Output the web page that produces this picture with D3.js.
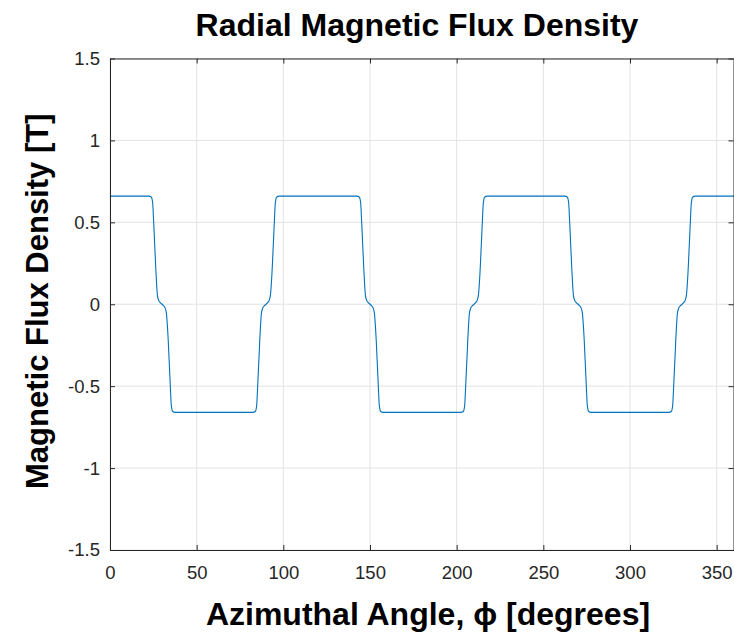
<!DOCTYPE html>
<html>
<head>
<meta charset="utf-8">
<script src="https://cdn.jsdelivr.net/npm/d3@7"></script>
<style>
  body { margin: 0; background: #fff; }
  text { font-family: Arial, "Liberation Sans", sans-serif; }
</style>
</head>
<body>
<svg id="chart" width="734" height="634"></svg>
<script>
// data
const angleDeg = [
  0, 22.5, 23.8, 24.6, 25.2, 26.5, 27.3, 28.0, 29, 30, 31, 31.9, 32.6, 33.5, 34.8, 35.4, 36.2, 37.5,
  82.5, 83.8, 84.6, 85.2, 86.5, 87.3, 88.0, 89, 90, 91, 91.9, 92.6, 93.5, 94.8, 95.4, 96.2, 97.5,
  142.5, 143.8, 144.6, 145.2, 146.5, 147.3, 148.0, 149, 150, 151, 151.9, 152.6, 153.5, 154.8, 155.4, 156.2, 157.5,
  202.5, 203.8, 204.6, 205.2, 206.5, 207.3, 208.0, 209, 210, 211, 211.9, 212.6, 213.5, 214.8, 215.4, 216.2, 217.5,
  262.5, 263.8, 264.6, 265.2, 266.5, 267.3, 268.0, 269, 270, 271, 271.9, 272.6, 273.5, 274.8, 275.4, 276.2, 277.5,
  322.5, 323.8, 324.6, 325.2, 326.5, 327.3, 328.0, 329, 330, 331, 331.9, 332.6, 333.5, 334.8, 335.4, 336.2, 337.5,
  360
];
const fluxT = [
  0.66, 0.66, 0.655, 0.62, 0.5, 0.2, 0.06, 0.025, 0.01, 0, -0.01, -0.025, -0.06, -0.2, -0.5, -0.62, -0.655, -0.66,
  -0.66, -0.655, -0.62, -0.5, -0.2, -0.06, -0.025, -0.01, 0, 0.01, 0.025, 0.06, 0.2, 0.5, 0.62, 0.655, 0.66,
  0.66, 0.655, 0.62, 0.5, 0.2, 0.06, 0.025, 0.01, 0, -0.01, -0.025, -0.06, -0.2, -0.5, -0.62, -0.655, -0.66,
  -0.66, -0.655, -0.62, -0.5, -0.2, -0.06, -0.025, -0.01, 0, 0.01, 0.025, 0.06, 0.2, 0.5, 0.62, 0.655, 0.66,
  0.66, 0.655, 0.62, 0.5, 0.2, 0.06, 0.025, 0.01, 0, -0.01, -0.025, -0.06, -0.2, -0.5, -0.62, -0.655, -0.66,
  -0.66, -0.655, -0.62, -0.5, -0.2, -0.06, -0.025, -0.01, 0, 0.01, 0.025, 0.06, 0.2, 0.5, 0.62, 0.655, 0.66,
  0.66
];
const xTicks = [0, 50, 100, 150, 200, 250, 300, 350];
const yTicks = [-1.5, -1, -0.5, 0, 0.5, 1, 1.5];

const svg = d3.select('#chart');
const mLeft = 110, mRight = 734, mTop = 58.5, mBottom = 550;
const axisColor = '#262626';

const x = d3.scaleLinear().domain([0, 360]).range([mLeft, mRight]);
const y = d3.scaleLinear().domain([-1.5, 1.5]).range([mBottom, mTop]);

// grid
const grid = svg.append('g');
grid.selectAll('.gx').data(xTicks).enter().append('line')
  .attr('x1', d => x(d)).attr('x2', d => x(d))
  .attr('y1', mTop).attr('y2', mBottom)
  .attr('stroke', '#e3e3e3').attr('stroke-width', 1);
grid.selectAll('.gy').data(yTicks).enter().append('line')
  .attr('x1', mLeft).attr('x2', mRight)
  .attr('y1', d => y(d)).attr('y2', d => y(d))
  .attr('stroke', '#e3e3e3').attr('stroke-width', 1);

// curve
const pts = angleDeg.map((a, i) => [a, fluxT[i]]);
svg.append('path')
  .datum(pts)
  .attr('fill', 'none')
  .attr('stroke', '#0072BD')
  .attr('stroke-width', 1.1)
  .attr('d', d3.line().x(d => x(d[0])).y(d => y(d[1])).curve(d3.curveMonotoneX));

// axes (ticks inward)
const fmt = d => String(d);
svg.append('g')
  .attr('transform', `translate(0,${mBottom})`)
  .call(d3.axisBottom(x).tickValues(xTicks).tickSizeInner(-5).tickSizeOuter(0).tickPadding(16).tickFormat(fmt));
svg.append('g')
  .attr('transform', `translate(0,${mTop})`)
  .call(d3.axisTop(x).tickValues(xTicks).tickSizeInner(-5).tickSizeOuter(0).tickFormat(''));
svg.append('g')
  .attr('transform', `translate(${mLeft},0)`)
  .call(d3.axisLeft(y).tickValues(yTicks).tickSizeInner(-5).tickSizeOuter(0).tickPadding(10).tickFormat(fmt));
svg.append('g')
  .attr('transform', `translate(${mRight - 0.5},0)`)
  .call(d3.axisRight(y).tickValues(yTicks).tickSizeInner(-5).tickSizeOuter(0).tickFormat(''));

svg.selectAll('.domain').attr('stroke', axisColor);
svg.selectAll('.tick line').attr('stroke', axisColor);
svg.selectAll('.tick text')
  .attr('fill', axisColor)
  .style('font-size', '18.5px')
  .style('font-family', 'Arial, "Liberation Sans", sans-serif');

// labels
svg.append('text')
  .attr('x', (mLeft + mRight) / 2 - 5)
  .attr('y', 36)
  .attr('text-anchor', 'middle')
  .style('font-size', '32px')
  .style('font-weight', 'bold')
  .text('Radial Magnetic Flux Density');

svg.append('text')
  .attr('x', (mLeft + mRight) / 2 + 6)
  .attr('y', 625)
  .attr('text-anchor', 'middle')
  .style('font-size', '32px')
  .style('font-weight', 'bold')
  .text('Azimuthal Angle, \u03d5 [degrees]');

svg.append('text')
  .attr('transform', `translate(48,${(mTop + mBottom) / 2 - 3}) rotate(-90)`)
  .attr('text-anchor', 'middle')
  .style('font-size', '31px')
  .style('font-weight', 'bold')
  .text('Magnetic Flux Density [T]');
</script>
</body>
</html>
